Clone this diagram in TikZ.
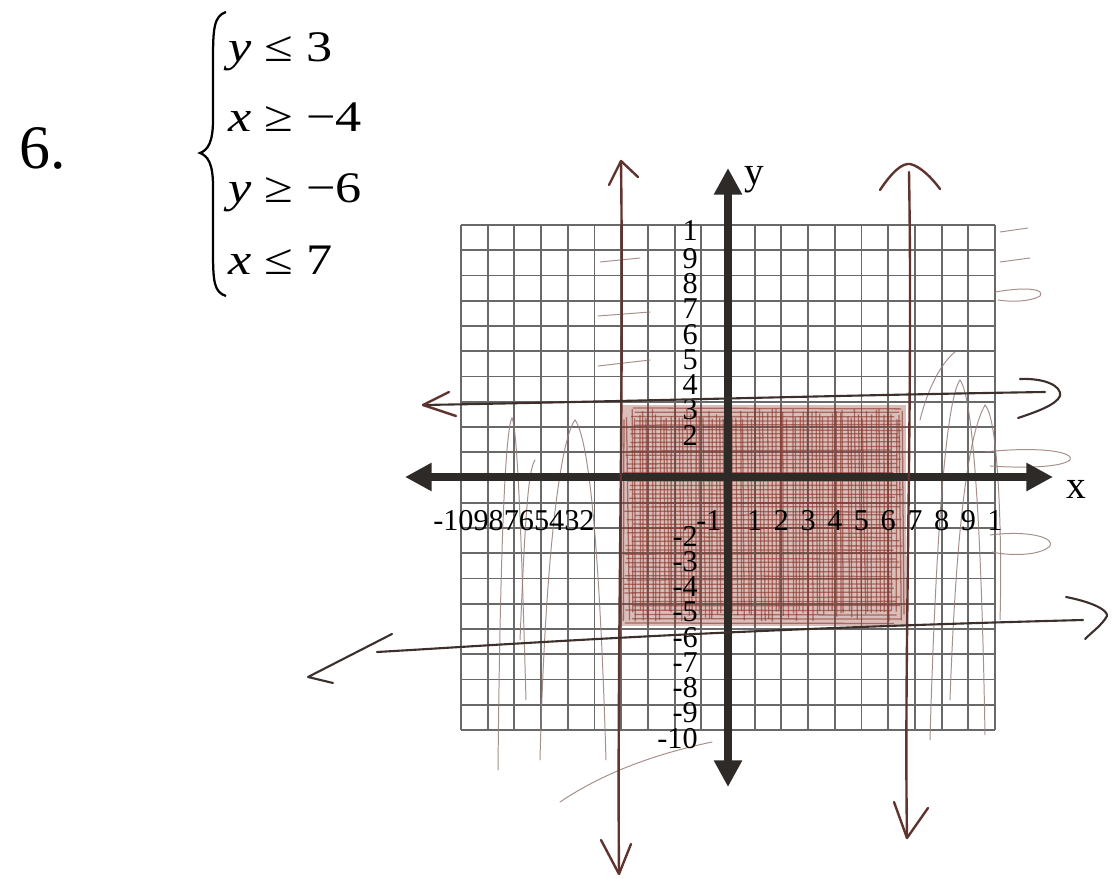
\documentclass[tikz,border=0pt]{standalone}
\usepackage{fontspec}
\setmainfont{Liberation Serif}
\usepackage{graphicx}
\usetikzlibrary{arrows.meta}
\definecolor{gridc}{RGB}{105,105,105}
\definecolor{axisc}{RGB}{45,42,40}
\definecolor{ink}{RGB}{95,52,46}
\definecolor{inkdark}{RGB}{60,48,44}
\definecolor{shadec}{RGB}{140,58,48}
\definecolor{faint}{RGB}{150,125,120}
\tikzset{
  gridline/.style={draw=gridc, line width=1.35pt},
  axisline/.style={draw=axisc, line width=5.6pt, {Triangle[length=19pt,width=19pt]}-{Triangle[length=19pt,width=19pt]}},
  handline/.style={draw=ink, line width=1.7pt, line cap=round, line join=round},
  handdark/.style={draw=inkdark, line width=1.5pt, line cap=round, line join=round},
  scrib/.style={draw=shadec, line width=0.9pt, opacity=0.65},
  faintline/.style={draw=faint, line width=0.7pt, opacity=0.85, line cap=round},
  num/.style={font=\fontsize{21.5}{21.5}\selectfont, inner sep=0pt, text=black, text height=0.66em, text depth=0pt},
  axlab/.style={font=\fontsize{28}{28}\selectfont, inner sep=0pt},
  ineq/.style={font=\fontsize{31}{31}\selectfont, inner sep=0pt, anchor=base west}
}
\begin{document}
\begin{tikzpicture}[x=0.025cm,y=-0.025cm]
\useasboundingbox[fill=white] (0,0) rectangle (1112,879);

% problem number and system
\node[inner sep=0pt, anchor=base west, font=\fontsize{44}{44}\selectfont] (num6) at (19,169) {6.};
\draw[line width=1.6pt] (226,12) .. controls (214,16) and (213,28) .. (213,60)
  -- (213,120) .. controls (213,142) and (208,150) .. (200,153)
  .. controls (208,156) and (213,164) .. (213,186) -- (213,250)
  .. controls (213,282) and (214,292) .. (226,296);
\node[ineq] (i1) at (228,62) {\scalebox{1.2}[1]{\textit{y} ≤ 3}};
\node[ineq] (i2) at (228,132) {\scalebox{1.2}[1]{\textit{x} ≥ −4}};
\node[ineq] (i3) at (228,203) {\scalebox{1.2}[1]{\textit{y} ≥ −6}};
\node[ineq] (i4) at (228,275) {\scalebox{1.2}[1]{\textit{x} ≤ 7}};

% grid
\foreach \i in {0,...,20} {
  \draw[gridline] ({461+26.7*\i},225) -- ({461+26.7*\i},730);
  \draw[gridline] (461,{225+25.25*\i}) -- (995,{225+25.25*\i});
}

% shaded solution region (hand scribbles)
\fill[shadec, opacity=0.33] (620,405) rectangle (906,626);
\pgfmathsetseed{17}
\foreach \k in {0,...,70} {
  \draw[scrib] ({622+4*\k+rnd*3},{408+rnd*12}) -- ({623+4*\k+rnd*3},{622-rnd*12});
}
\foreach \k in {0,...,50} {
  \draw[scrib] ({623+rnd*12},{408+4.3*\k}) -- ({903-rnd*12},{408+4.3*\k+rnd*2-1});
}

% faint scribbles outside
\draw[faintline] (498,770) .. controls (500,560) and (505,430) .. (512,418) .. controls (518,430) and (522,560) .. (526,700);
\draw[faintline] (540,760) .. controls (545,560) and (560,440) .. (575,420) .. controls (590,440) and (600,560) .. (606,760);
\draw[faintline] (520,640) .. controls (525,520) and (528,470) .. (535,460);
\draw[faintline] (930,740) .. controls (935,560) and (945,400) .. (960,380) .. controls (975,400) and (982,560) .. (985,735);
\draw[faintline] (950,700) .. controls (955,560) and (965,440) .. (985,405) .. controls (1000,420) and (1002,560) .. (1000,620);
\draw[faintline] (920,420) .. controls (930,380) and (945,360) .. (955,352);
\draw[faintline] (1000,232) -- (1028,228);
\draw[faintline] (1000,262) -- (1030,258);
\draw[faintline] (995,292) .. controls (1030,286) and (1045,290) .. (1040,296) .. controls (1030,302) and (1010,302) .. (998,300);
\draw[faintline] (985,452) .. controls (1040,446) and (1075,452) .. (1070,460) .. controls (1060,468) and (1020,468) .. (990,466);
\draw[faintline] (990,535) .. controls (1030,530) and (1055,538) .. (1050,546) .. controls (1040,556) and (1010,556) .. (992,552);
\draw[faintline] (560,802) .. controls (600,775) and (650,755) .. (712,742);
\draw[faintline] (600,262) -- (640,258);
\draw[faintline] (598,316) -- (650,312);
\draw[faintline] (598,366) -- (650,360);

% axes
\coordinate (xl) at (405,477);
\coordinate (xr) at (1053,477);
\coordinate (yt) at (728,168);
\coordinate (yb) at (728,787);
\draw[axisline] (xl) -- (xr);
\draw[axisline] (yb) -- (yt);
\node[axlab, anchor=west] (xlab) at (1066,489) {x};
\node[axlab, anchor=west] (ylab) at (744,180) {y};

% tick labels on x axis
\node[num, anchor=base west] (xneg) at (433,530) {-1098765432};
\node[num, anchor=base] (xm1) at (709,530) {-1};
\foreach \n in {1,...,9} {
  \node[num, anchor=base] (xp\n) at ({728+26.7*\n},530) {\n};
}
\node[num, anchor=base] (xp10) at (995,530) {1};

% tick labels on y axis
\node[num, anchor=east] (yp10) at (698,236) {1};
\foreach \n in {2,...,9} {
  \node[num, anchor=east] (yp\n) at (698,{477-25.25*\n+14}) {\n};
}
\foreach \n in {2,...,10} {
  \node[num, anchor=east] (yn\n) at (698,{477+25.25*\n+14}) {-\n};
}

% hand-drawn boundary lines
\coordinate (v1t) at (621,161);
\coordinate (v1b) at (619,874);
\draw[handline] (v1t) .. controls (624,400) and (617,650) .. (v1b);
\draw[handline] (609,185) -- (v1t) -- (638,177);
\draw[handline] (601,840) -- (v1b) -- (631,844);

\coordinate (v2t) at (909,172);
\coordinate (v2b) at (907,838);
\draw[handline] (v2t) .. controls (913,400) and (904,650) .. (v2b);
\draw[handline] (880,190) .. controls (892,172) and (902,163) .. (910,164) .. controls (920,166) and (932,178) .. (940,189);
\draw[handline] (894,802) -- (v2b) -- (928,808);

\coordinate (h1l) at (423,405);
\coordinate (h1r) at (1045,392);
\draw[handdark] (h1l) .. controls (600,402) and (850,395) .. (h1r);
\draw[handline] (449,392) -- (h1l) -- (456,416);
\draw[handdark] (1020,379) .. controls (1045,378) and (1062,386) .. (1060,396) .. controls (1056,405) and (1036,412) .. (1018,418);

\coordinate (h2l) at (377,652);
\coordinate (h2r) at (1083,620);
\draw[handdark] (h2l) .. controls (500,645) and (700,630) .. (h2r);
\draw[handdark] (392,634) -- (308,677) -- (333,683);
\draw[handdark] (1066,597) .. controls (1092,602) and (1108,610) .. (1107,616) .. controls (1102,625) and (1092,632) .. (1085,639);
\end{tikzpicture}
\end{document}
